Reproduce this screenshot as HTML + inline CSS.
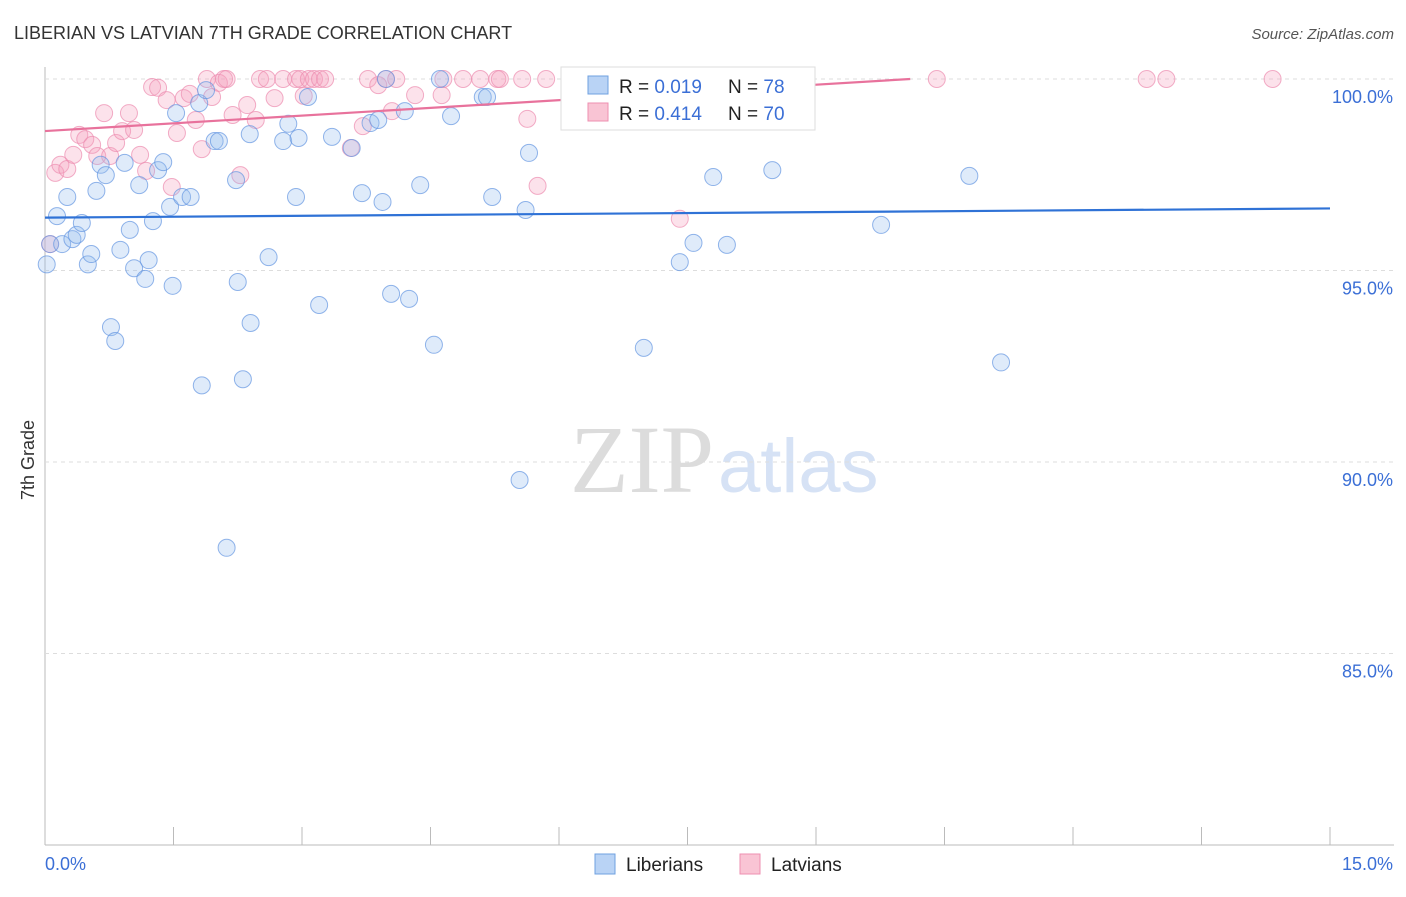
<!DOCTYPE html>
<html><head><meta charset="utf-8"><style>
body{margin:0;background:#fff;font-family:"Liberation Sans",sans-serif}
</style></head><body>
<svg id="chart" width="1406" height="892" xmlns="http://www.w3.org/2000/svg" font-family="Liberation Sans, sans-serif">
<text x="14" y="39" font-size="18" fill="#333">LIBERIAN VS LATVIAN 7TH GRADE CORRELATION CHART</text>
<text x="1394" y="39" font-size="15" fill="#555" text-anchor="end" font-style="italic">Source: ZipAtlas.com</text>
<text x="34" y="460" font-size="18" fill="#333" transform="rotate(-90 34 460)" text-anchor="middle">7th Grade</text>
<text x="714" y="492" font-size="96" fill="#dcdcdc" style="font-family:'Liberation Serif',serif" text-anchor="end">ZIP</text>
<text x="718" y="492" font-size="76" fill="#d6e2f5">atlas</text>
<g id="grid"></g><g id="pts"></g><g id="lines"></g>
<g>
<rect x="561" y="67" width="254" height="63" fill="#fff" stroke="#ddd"/>
<rect x="588" y="76" width="20" height="18" fill="#b9d3f5" stroke="#6fa0e0"/>
<rect x="588" y="103" width="20" height="18" fill="#f9c4d4" stroke="#ee8fb0"/>
<text x="619" y="93" font-size="19" fill="#222">R = <tspan fill="#3b6fd6">0.019</tspan></text>
<text x="728" y="93" font-size="19" fill="#222">N = <tspan fill="#3b6fd6">78</tspan></text>
<text x="619" y="120" font-size="19" fill="#222">R = <tspan fill="#3b6fd6">0.414</tspan></text>
<text x="728" y="120" font-size="19" fill="#222">N = <tspan fill="#3b6fd6">70</tspan></text>
</g>
<g>
<rect x="595" y="854" width="20" height="20" fill="#b9d3f5" stroke="#6fa0e0"/>
<text x="626" y="871" font-size="19" fill="#222">Liberians</text>
<rect x="740" y="854" width="20" height="20" fill="#f9c4d4" stroke="#ee8fb0"/>
<text x="771" y="871" font-size="19" fill="#222">Latvians</text>
</g>
</svg>
<script>
const xMin=0,xMax=15,yMin=80,yMax=100;
const yTicks=[100,95,90,85];
const yTickLabels=["100.0%","95.0%","90.0%","85.0%"];
const xTickLabels=["0.0%","15.0%"];
const libX=[0.02,0.06,0.14,0.2,0.26,0.32,0.37,0.43,0.5,0.54,0.6,0.65,0.71,0.77,0.82,0.88,0.93,0.99,1.04,1.1,1.17,1.21,1.26,1.32,1.38,1.46,1.49,1.53,1.6,1.7,1.8,1.83,1.88,1.98,2.03,2.12,2.23,2.25,2.31,2.39,2.4,2.61,2.78,2.84,2.93,2.96,3.07,3.2,3.35,3.58,3.7,3.8,3.89,3.94,3.98,4.04,4.2,4.25,4.38,4.54,4.61,4.74,5.11,5.16,5.22,5.54,5.61,5.65,6.99,7.41,7.57,7.8,7.96,8.49,9.76,10.79,11.16];
const libY=[95.16,95.69,96.42,95.69,96.92,95.82,95.93,96.24,95.16,95.43,97.08,97.76,97.49,93.52,93.16,95.54,97.81,96.06,95.06,97.23,94.78,95.27,96.29,97.62,97.83,96.66,94.6,99.11,96.92,96.92,99.37,92.0,99.71,98.38,98.38,87.76,97.36,94.7,92.16,98.56,93.63,95.35,98.38,98.83,96.92,98.46,99.53,94.1,98.49,98.2,97.02,98.85,98.93,96.79,100,94.39,99.16,94.26,97.23,93.06,100,99.03,99.53,99.53,96.92,89.53,96.58,98.07,92.98,95.22,95.72,97.44,95.67,97.62,96.19,97.47,92.6];
const latX=[0.06,0.12,0.18,0.26,0.33,0.4,0.47,0.55,0.61,0.69,0.76,0.83,0.9,0.98,1.04,1.11,1.18,1.25,1.32,1.42,1.48,1.54,1.62,1.69,1.76,1.83,1.89,1.95,2.03,2.09,2.12,2.19,2.28,2.36,2.46,2.51,2.59,2.68,2.78,2.93,2.98,3.02,3.08,3.14,3.21,3.27,3.57,3.71,3.77,3.89,3.98,4.05,4.1,4.32,4.63,4.65,4.88,5.08,5.28,5.31,5.57,5.63,5.75,5.85,6.13,7.41,7.94,10.41,12.86,13.09,14.33];
const latY=[95.69,97.55,97.76,97.65,98.02,98.54,98.43,98.28,97.99,99.11,97.99,98.33,98.64,99.11,98.67,98.02,97.6,99.79,99.77,99.45,97.18,98.59,99.5,99.61,98.93,98.17,100,99.53,99.9,100,100,99.06,97.49,99.32,98.93,100,100,99.5,100,100,100,99.56,100,100,100,100,98.2,98.77,100,99.84,100,99.16,100,99.58,99.58,100,100,100,100,100,100,98.96,97.21,100,99.5,96.35,100,100,100,100,100];
const libTrend=[96.38,96.62];
const latTrend=[98.64,100];const latTrendEndX=10.1;
const L=45,R=1330,T=79,B=845;
const sx=v=>L+(v-xMin)/(xMax-xMin)*(R-L);
const sy=v=>T+(yMax-v)/(yMax-yMin)*(B-T);
const NS="http://www.w3.org/2000/svg";
function mk(tag,a,parent){const e=document.createElementNS(NS,tag);for(const k in a)e.setAttribute(k,a[k]);document.getElementById(parent).appendChild(e);return e;}
mk('line',{x1:L,y1:T-12,x2:L,y2:B,stroke:'#bbb'},'grid');
mk('line',{x1:L,y1:B,x2:1394,y2:B,stroke:'#bbb'},'grid');
for(let i=0;i<=10;i++){const x=L+i*(R-L)/10;const t=mk('line',{x1:x,y1:B,x2:x,y2:B-18,stroke:'#bbb'},'grid');

}
yTicks.forEach((v,i)=>{const g=mk('line',{x1:L,y1:sy(v),x2:1394,y2:sy(v),stroke:'#ddd','stroke-dasharray':'4 4'},'grid');


const t=mk('text',{x:1393,y:sy(v)+24,'font-size':18,fill:'#3b6fd6','text-anchor':'end'},'grid');t.textContent=yTickLabels[i];

});
xTickLabels.forEach((s,i)=>{const t=mk('text',{x:i?1393:45,y:870,'font-size':18,fill:'#3b6fd6','text-anchor':i?'end':'start'},'grid');t.textContent=s;

});
latX.forEach((v,i)=>{const c=mk('circle',{cx:sx(v),cy:sy(latY[i]),r:8.5,fill:'rgba(246,160,190,0.3)',stroke:'rgba(236,140,175,0.7)','stroke-width':1},'pts');

});
libX.forEach((v,i)=>{const c=mk('circle',{cx:sx(v),cy:sy(libY[i]),r:8.5,fill:'rgba(150,190,240,0.3)',stroke:'rgba(100,150,225,0.7)','stroke-width':1},'pts');

});
const l1=mk('line',{x1:sx(0),y1:sy(libTrend[0]),x2:sx(15),y2:sy(libTrend[1]),stroke:'#2f72d6','stroke-width':2.2},'lines');


const l2=mk('line',{x1:sx(0),y1:sy(latTrend[0]),x2:sx(latTrendEndX),y2:sy(latTrend[1]),stroke:'#e8729c','stroke-width':2.2},'lines');


</script>
</body></html>
